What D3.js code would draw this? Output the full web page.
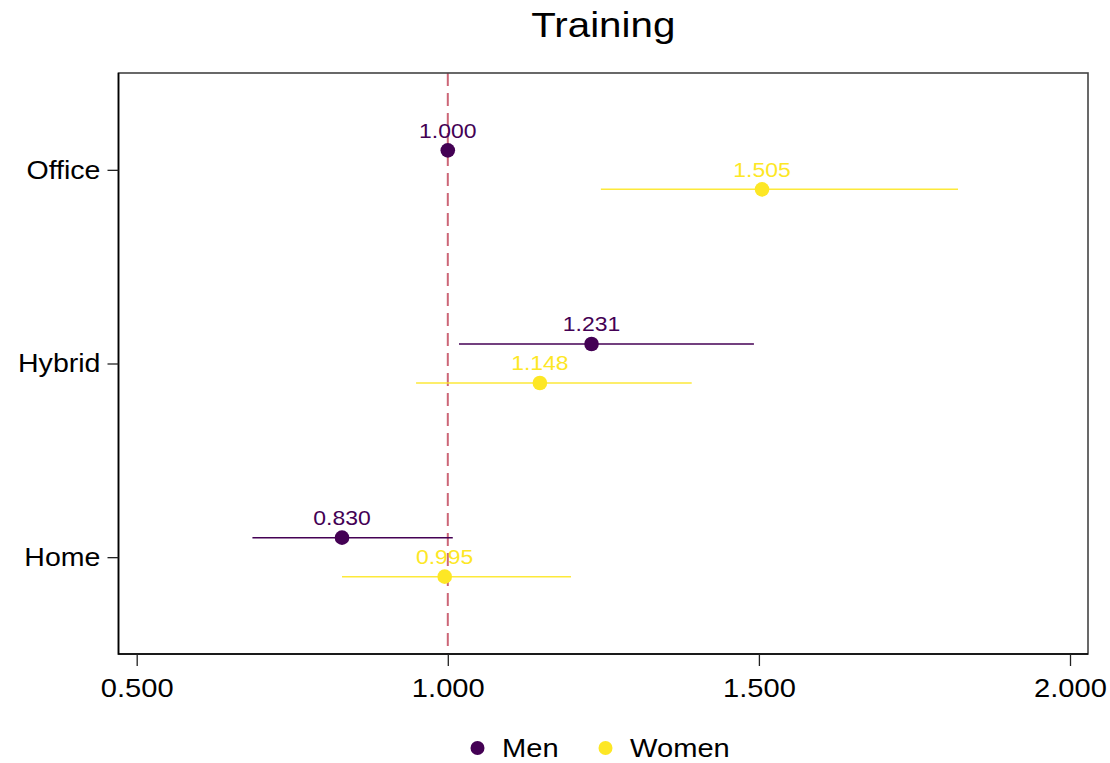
<!DOCTYPE html>
<html><head><meta charset="utf-8">
<script src="https://cdn.jsdelivr.net/npm/d3@7"></script>
<style>body{margin:0;background:#fff}text{font-family:"Liberation Sans",Arial,sans-serif}</style>
</head><body><svg id="c" width="1110" height="763"></svg>
<script>
const categories = ["Office","Hybrid","Home"];
const groups = ["Men","Women"];
const colors = ["#440154","#FDE725"];
const menEst = [1.000, 1.231, 0.830];
const menLo = [null, 1.018, 0.686];
const menHi = [null, 1.492, 1.008];
const womenEst = [1.505, 1.148, 0.995];
const womenLo = [1.246, 0.949, 0.830];
const womenHi = [1.820, 1.392, 1.198];
const xTicks = [0.5, 1.0, 1.5, 2.0];
const refValue = 1.0;

const SX = 1.12; // horizontal glyph stretch seen in the reference
function stretch(sel) {
  sel.each(function() {
    const t = d3.select(this);
    const x = +t.attr("x") || 0;
    t.attr("x", x / SX).attr("transform", `scale(${SX},1)`);
  });
  return sel;
}

const svg = d3.select("#c");
const L = 118.5, R = 1088, T = 73, B = 654;
const x = d3.scaleLinear().domain([0.5 - 18.2/622.4, 2.0 + 18/622.4]).range([L, R]);
const y = d3.scalePoint().domain(categories).range([T, B]).padding(0.5);
const off = {Men: -19.5, Women: 19.5};

const series = [
  {g:"Men", est:menEst, lo:menLo, hi:menHi, color:colors[0]},
  {g:"Women", est:womenEst, lo:womenLo, hi:womenHi, color:colors[1]}
];

// ref line
svg.append("line").attr("x1", x(refValue)).attr("x2", x(refValue)).attr("y1", T).attr("y2", B)
  .attr("stroke", "#CC6677").attr("stroke-width", 2).attr("stroke-dasharray", "13,7");

series.forEach(s => {
  categories.forEach((c, i) => {
    const cy = y(c) + off[s.g];
    if (s.lo[i] != null) {
      svg.append("line").attr("x1", x(s.lo[i])).attr("x2", x(s.hi[i])).attr("y1", cy).attr("y2", cy)
        .attr("stroke", s.color).attr("stroke-width", 1.5).attr("opacity", s.g === "Women" ? 0.9 : 1);
    }
    svg.append("circle").attr("cx", x(s.est[i])).attr("cy", cy).attr("r", 7.3).attr("fill", s.color);
    stretch(svg.append("text").attr("x", x(s.est[i])).attr("y", cy - 12.5).attr("text-anchor", "middle")
      .attr("font-size", 20.5).attr("fill", s.color).text(s.est[i].toFixed(3)));
  });
});

// frame
svg.append("rect").attr("x", L).attr("y", T).attr("width", R - L).attr("height", B - T)
  .attr("fill", "none").attr("stroke", "#444").attr("stroke-width", 1.6);
svg.append("path").attr("d", `M${L},${T}V${B}H${R}`).attr("fill", "none").attr("stroke", "#000").attr("stroke-width", 1.6);

// x axis
const xa = svg.append("g").attr("transform", `translate(0,${B})`)
  .call(d3.axisBottom(x).tickValues(xTicks).tickFormat(d3.format(".3f")).tickSize(12).tickPadding(13));
xa.select(".domain").remove();
xa.selectAll("line").attr("stroke", "#222").attr("stroke-width", 1.3);
stretch(xa.selectAll("text").attr("font-size", 26).attr("fill", "#000").attr("font-family", "Liberation Sans, Arial, sans-serif"));

// y axis
const ya = svg.append("g").attr("transform", `translate(${L},0)`)
  .call(d3.axisLeft(y).tickSize(11).tickPadding(7));
ya.select(".domain").remove();
ya.selectAll("line").attr("stroke", "#222").attr("stroke-width", 1.3);
stretch(ya.selectAll("text").attr("font-size", 25.5).attr("fill", "#000").attr("font-family", "Liberation Sans, Arial, sans-serif"));

// title
stretch(svg.append("text").attr("x", (L + R) / 2).attr("y", 37).attr("text-anchor", "middle")
  .attr("font-size", 36).attr("fill", "#000").text("Training"));

// legend
const lg = [{g:"Men", cx:477.5, tx:502}, {g:"Women", cx:605.5, tx:630}];
lg.forEach((d, i) => {
  svg.append("circle").attr("cx", d.cx).attr("cy", 748).attr("r", 7).attr("fill", colors[i]);
  stretch(svg.append("text").attr("x", d.tx).attr("y", 757).attr("font-size", 26).attr("fill", "#000").text(d.g));
});
</script></body></html>
